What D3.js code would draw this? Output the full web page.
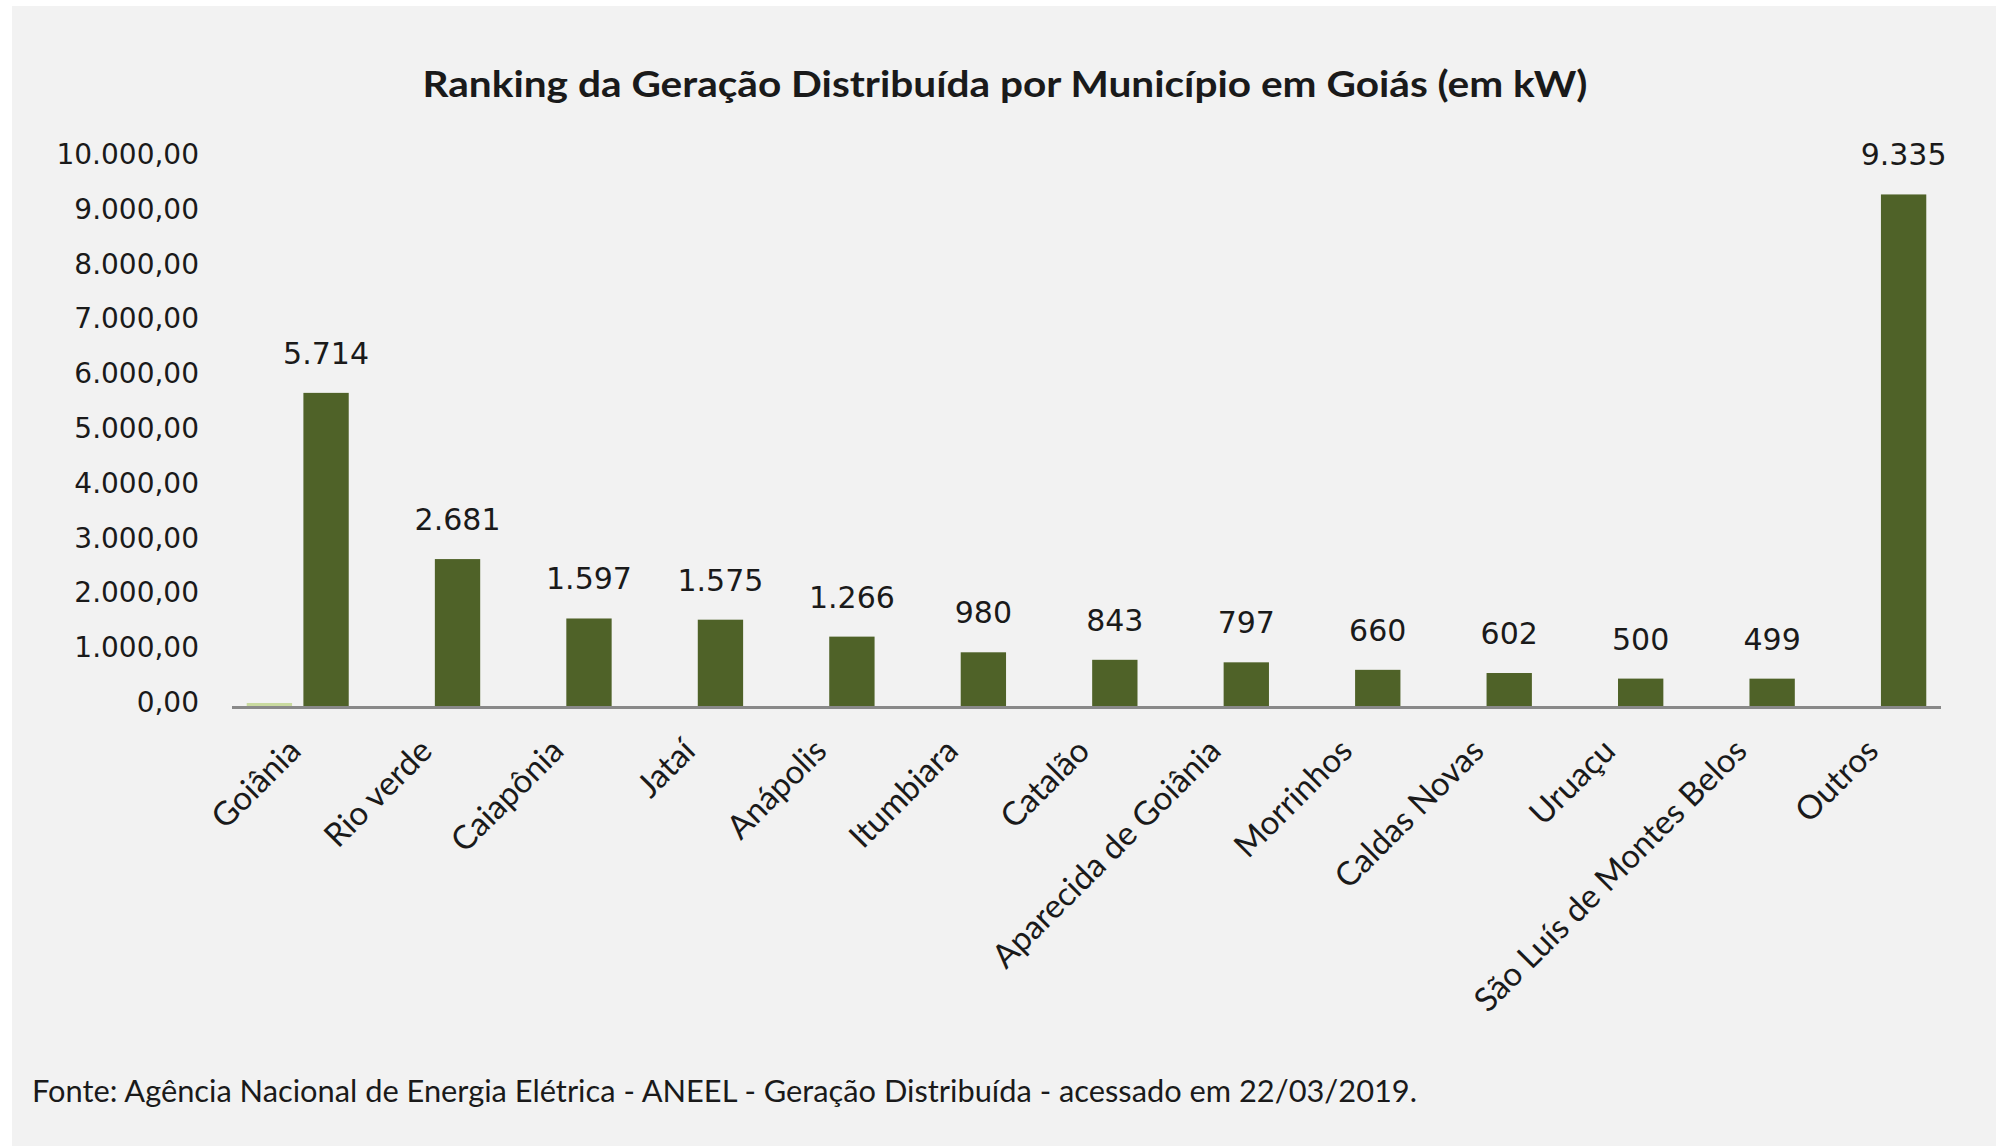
<!DOCTYPE html>
<html><head><meta charset="utf-8">
<script src="https://cdn.jsdelivr.net/npm/d3@7"></script>
<style>html,body{margin:0;padding:0;background:#fff;}svg{display:block;}</style>
</head><body>
<svg id="chart" width="1996" height="1146"></svg>
<script>
const categories = ["Goiânia","Rio verde","Caiapônia","Jataí","Anápolis","Itumbiara","Catalão","Aparecida de Goiânia","Morrinhos","Caldas Novas","Uruaçu","São Luís de Montes Belos","Outros"];
const series1Values = [55,0,0,0,0,0,0,0,0,0,0,0,0];
const series2Values = [5714,2681,1597,1575,1266,980,843,797,660,602,500,499,9335];
const yTickValues = [0,1000,2000,3000,4000,5000,6000,7000,8000,9000,10000];
const titleText = "Ranking da Geração Distribuída por Município em Goiás (em kW)";
const sourceText = "Fonte: Agência Nacional de Energia Elétrica - ANEEL - Geração Distribuída - acessado em 22/03/2019.";

const W = 1996, H = 1146;
const svg = d3.select("#chart");
const ptBR = d3.formatLocale({decimal:",", thousands:".", grouping:[3], currency:["R$",""]});
const fmtTick = ptBR.format(",.2f");
const fmtLabel = ptBR.format(",.0f");

svg.append("rect").attr("x",12).attr("y",6).attr("width",W-12).attr("height",H-6).attr("fill","#f2f2f2");

const x = d3.scaleBand().domain(categories).range([232,1941]).padding(0);
const x1 = d3.scaleBand().domain(["s1","s2"]).range([-51,51]).paddingInner(0.2);
const y = d3.scaleLinear().domain([0,10000]).range([706,158]);

// title
svg.append("text").attr("x",1005).attr("y",97).attr("text-anchor","middle")
  .attr("font-family","Lato, 'Open Sans', sans-serif").attr("font-weight","bold").attr("font-size",36)
  .attr("fill","#1a1a1a").attr("textLength",1165).attr("lengthAdjust","spacingAndGlyphs").text(titleText);

// y tick labels
svg.append("g").selectAll("text").data(yTickValues).join("text")
  .attr("x",199).attr("y",d=>y(d)-4).attr("dy","0.36em").attr("text-anchor","end")
  .attr("font-family","'DejaVu Sans', Verdana, sans-serif").attr("font-size",28).attr("fill","#1a1a1a")
  .text(d=>fmtTick(d));

const data = categories.map((c,i)=>({c, s1:series1Values[i], s2:series2Values[i]}));

// bars series1
svg.append("g").selectAll("rect").data(data.filter(d=>d.s1>0)).join("rect")
  .attr("x",d=>x(d.c)+x.bandwidth()/2+x1("s1")).attr("width",x1.bandwidth())
  .attr("y",d=>y(d.s1)).attr("height",d=>y(0)-y(d.s1)).attr("fill","#c9da9f");
// bars series2
svg.append("g").selectAll("rect").data(data).join("rect")
  .attr("x",d=>x(d.c)+x.bandwidth()/2+x1("s2")).attr("width",x1.bandwidth())
  .attr("y",d=>y(d.s2)).attr("height",d=>y(0)-y(d.s2)).attr("fill","#4f6228");

// data labels
svg.append("g").selectAll("text").data(data).join("text")
  .attr("x",d=>x(d.c)+x.bandwidth()/2+x1("s2")+x1.bandwidth()/2).attr("y",d=>y(d.s2)-29)
  .attr("text-anchor","middle").attr("font-family","'DejaVu Sans', Verdana, sans-serif").attr("font-size",30)
  .attr("fill","#1a1a1a").text(d=>fmtLabel(d.s2));

// x axis line
svg.append("line").attr("x1",232).attr("x2",1941).attr("y1",707.5).attr("y2",707.5)
  .attr("stroke","#898989").attr("stroke-width",3);

// x labels
svg.append("g").selectAll("text").data(categories).join("text")
  .attr("transform",d=>`translate(${x(d)+x.bandwidth()/2+5},753) rotate(-45)`)
  .attr("text-anchor","end").attr("font-family","Lato, 'Open Sans', sans-serif").attr("font-size",33)
  .attr("fill","#1a1a1a").text(d=>d);

// footer
svg.append("text").attr("x",32).attr("y",1102).attr("font-family","Lato, 'Open Sans', sans-serif")
  .attr("font-size",30).attr("fill","#1a1a1a").attr("textLength",1385).attr("lengthAdjust","spacingAndGlyphs").text(sourceText);
</script>
</body></html>
